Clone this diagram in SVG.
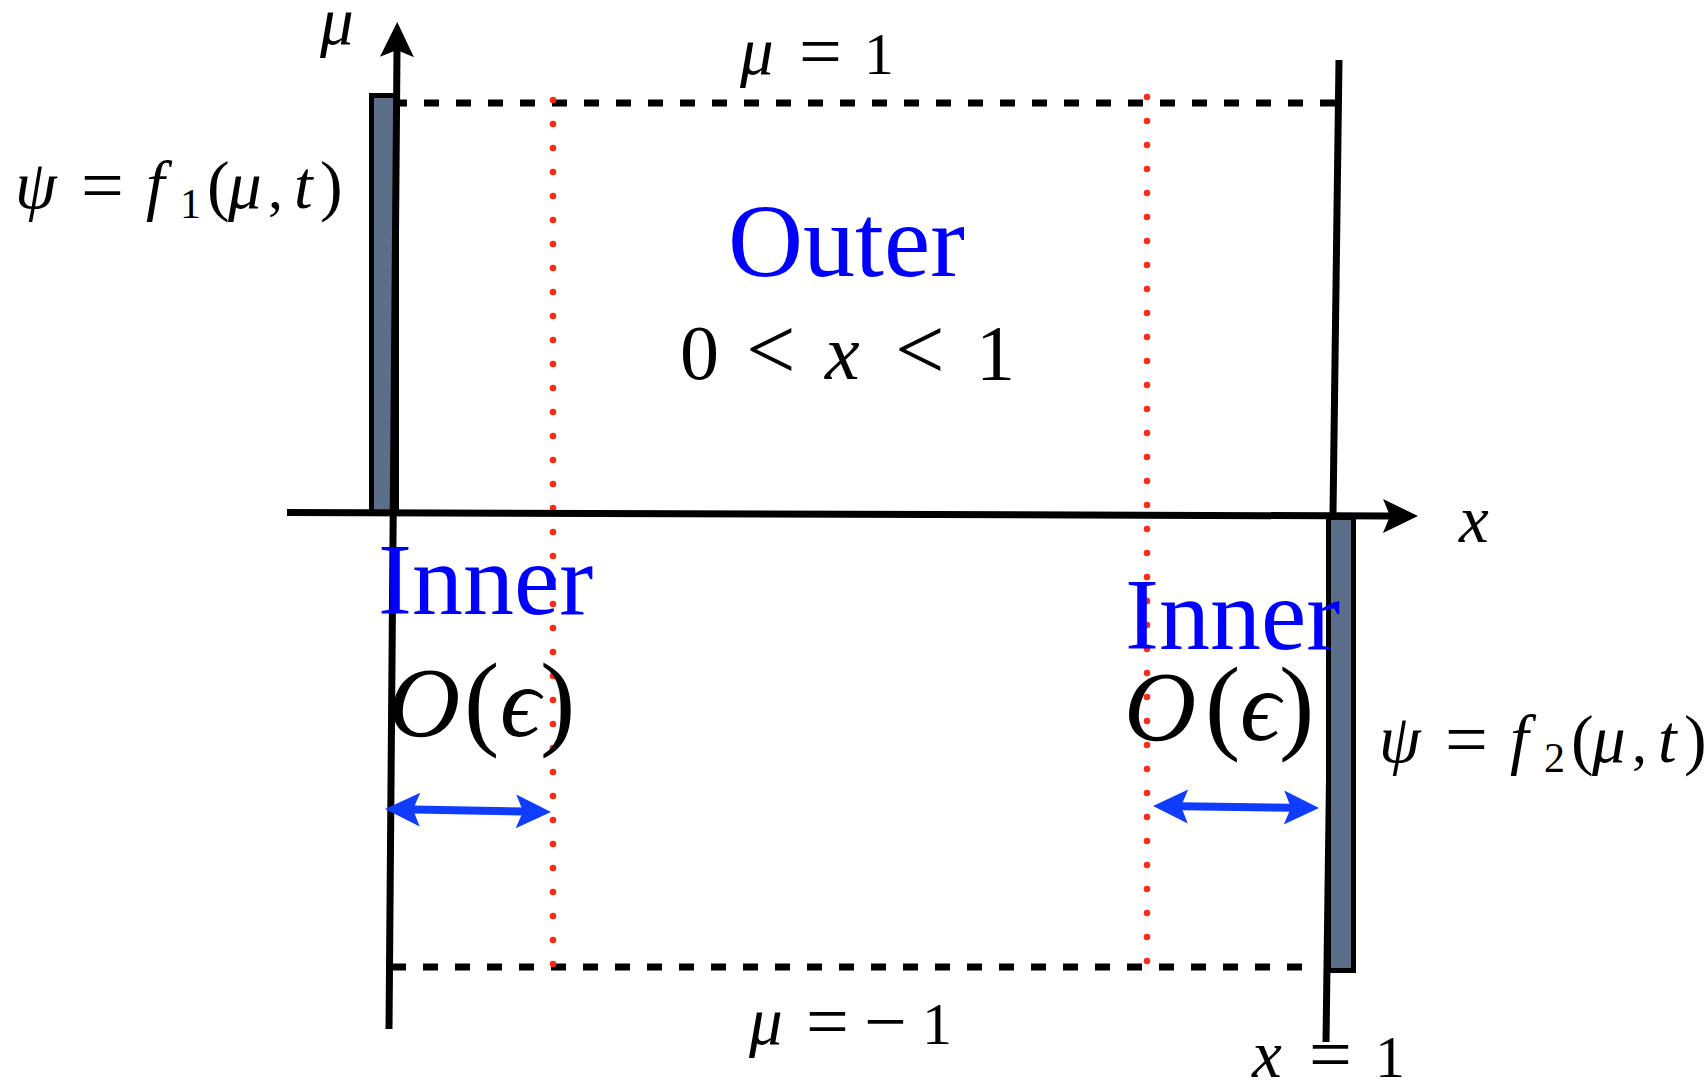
<svg xmlns="http://www.w3.org/2000/svg" width="1708" height="1082" viewBox="0 0 1708 1082">
<style>
.m{font-family:"Liberation Serif","DejaVu Serif",serif;font-size:60px;fill:#000}
.i{font-style:italic}
.v{font-style:italic;font-size:67px}
.blue{fill:#0000ff}
.eq{font-size:76px}
.sub{font-size:42px}
.par{font-size:68px}
.dash{stroke:#000;stroke-width:7;stroke-dasharray:15 17;fill:none}
.dots{stroke:#ff2a12;stroke-width:6.5;stroke-linecap:round;stroke-dasharray:0 24;fill:none}
.axis{stroke:#000;stroke-width:7;fill:none}
.barr{stroke:#0f3cff;stroke-width:8;fill:none}
.wall{fill:#5b6f8b;stroke:#000;stroke-width:5}
</style>
<defs>
<marker id="ak" markerUnits="userSpaceOnUse" markerWidth="80" markerHeight="80" viewBox="-40 -40 80 80" refX="0" refY="0" orient="auto-start-reverse">
<path d="M28,0 L-7,-17 L0,0 L-7,17 Z" fill="#000"/>
</marker>
<marker id="ab" markerUnits="userSpaceOnUse" markerWidth="80" markerHeight="80" viewBox="-40 -40 80 80" refX="0" refY="0" orient="auto-start-reverse">
<path d="M28,0 L-7,-17 L0,0 L-7,17 Z" fill="#0f3cff"/>
</marker>
</defs>
<rect width="1708" height="1082" fill="#fff"/>
<g id="connectors">
<line class="dash" x1="392" y1="103" x2="1337" y2="103"/>
<line class="dash" x1="391" y1="967" x2="1306" y2="967"/>
<line class="dots" x1="553" y1="100" x2="553" y2="966"/>
<line class="dots" x1="1147" y1="97" x2="1147" y2="965"/>
<line class="axis" x1="1339" y1="60" x2="1326" y2="1042"/>
</g>
<g id="wall-left"><rect class="wall" x="371.5" y="95.5" width="25" height="417"/></g>
<g id="wall-right"><rect class="wall" x="1328.5" y="517.5" width="25" height="453"/></g>
<g id="axes">
<line class="axis" x1="287" y1="512.5" x2="1390" y2="516" marker-end="url(#ak)"/>
<line class="axis" x1="389" y1="1029" x2="397" y2="50" marker-end="url(#ak)"/>
</g>
<g id="width-arrows">
<line class="barr" x1="413" y1="809.5" x2="523" y2="811.5" marker-start="url(#ab)" marker-end="url(#ab)"/>
<line class="barr" x1="1181" y1="806.3" x2="1291" y2="807.7" marker-start="url(#ab)" marker-end="url(#ab)"/>
</g>
<g id="labels">
<text class="m v" x="320" y="44">μ</text>
<text class="m" y="208"><tspan x="15" class="v">ψ</tspan><tspan x="81" y="211" class="eq">=</tspan><tspan x="146" y="208" class="v">f</tspan><tspan x="180" y="218" class="sub">1</tspan><tspan x="207" y="208" class="par">(</tspan><tspan x="228" class="v">μ</tspan><tspan x="268">,</tspan><tspan x="294" class="v">t</tspan><tspan x="320" class="par">)</tspan></text>
<text class="m" y="74"><tspan x="740" class="v">μ</tspan><tspan x="799" y="77" class="eq">=</tspan><tspan x="864" y="74">1</tspan></text>
<text class="m blue" x="728" y="276" style="font-size:104px">Outer</text>
<text class="m" y="379" style="font-size:78px"><tspan x="680">0</tspan><tspan x="746" style="font-size:88px">&lt;</tspan><tspan x="825" class="i">x</tspan><tspan x="895" style="font-size:88px">&lt;</tspan><tspan x="976">1</tspan></text>
<text class="m v" x="1459" y="542">x</text>
<text class="m blue" x="378" y="614" style="font-size:102px">Inner</text>
<text class="m" y="736" style="font-size:100px"><tspan x="388" class="i">O</tspan><tspan x="464" style="font-size:106px">(</tspan><tspan x="500" class="i">ϵ</tspan><tspan x="540" style="font-size:106px">)</tspan></text>
<text class="m blue" x="1125" y="649" style="font-size:102px">Inner</text>
<text class="m" y="740" style="font-size:100px"><tspan x="1124" class="i">O</tspan><tspan x="1205" style="font-size:106px">(</tspan><tspan x="1240" class="i">ϵ</tspan><tspan x="1279" style="font-size:106px">)</tspan></text>
<text class="m" y="762"><tspan x="1379" class="v">ψ</tspan><tspan x="1445" y="765" class="eq">=</tspan><tspan x="1510" y="762" class="v">f</tspan><tspan x="1544" y="772" class="sub">2</tspan><tspan x="1571" y="762" class="par">(</tspan><tspan x="1592" class="v">μ</tspan><tspan x="1632">,</tspan><tspan x="1658" class="v">t</tspan><tspan x="1684" class="par">)</tspan></text>
<text class="m" y="1044"><tspan x="749" class="v">μ</tspan><tspan x="806" y="1047" class="eq">=</tspan><tspan x="864" class="eq">−</tspan><tspan x="922" y="1044">1</tspan></text>
<text class="m" y="1077"><tspan x="1252" class="v">x</tspan><tspan x="1309" y="1080" class="eq">=</tspan><tspan x="1375" y="1077">1</tspan></text>
</g>
</svg>
